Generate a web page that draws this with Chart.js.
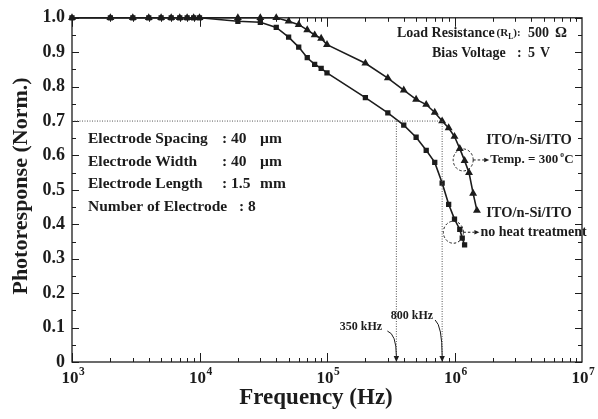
<!DOCTYPE html>
<html>
<head>
<meta charset="utf-8">
<script src="https://cdn.jsdelivr.net/npm/chart.js@4.4.0/dist/chart.umd.min.js"></script>
<style>
html, body { margin: 0; padding: 0; background: #fff; }
#wrap { width: 598px; height: 419px; }
</style>
</head>
<body>
<div id="wrap"><canvas id="photoChart"></canvas></div>
<script>
// ---------- DATA ----------
const noHeatFreq = [1e3, 2e3, 3e3, 4e3, 5e3, 6e3, 7e3, 8e3, 9e3, 1e4, 2e4, 3e4, 4e4, 5e4, 6e4, 7e4, 8e4, 9e4, 1e5,
    2e5, 3e5, 4e5, 5e5, 6e5, 7e5, 8e5, 9e5, 1e6, 1.1e6, 1.15e6, 1.2e6];
const noHeatResp = [1, 1, 1, 1, 1, 1, 1, 1, 1, 1, 0.99, 0.987, 0.972, 0.944, 0.915, 0.884, 0.865, 0.853, 0.84,
    0.768, 0.724, 0.688, 0.653, 0.615, 0.58, 0.52, 0.458, 0.415, 0.385, 0.36, 0.34];

const annealFreq = [1e3, 2e3, 3e3, 4e3, 5e3, 6e3, 7e3, 8e3, 9e3, 1e4, 2e4, 3e4, 4e4, 5e4, 6e4, 7e4, 8e4, 9e4, 1e5,
    2e5, 3e5, 4e5, 5e5, 6e5, 7e5, 8e5, 9e5, 1e6, 1.1e6, 1.2e6, 1.3e6, 1.4e6, 1.5e6];
const annealResp = [1, 1, 1, 1, 1, 1, 1, 1, 1, 1, 1, 1, 1, 0.99, 0.98, 0.965, 0.95, 0.94, 0.922,
    0.868, 0.825, 0.79, 0.763, 0.748, 0.725, 0.70, 0.68, 0.655, 0.62, 0.585, 0.55, 0.49, 0.44];

const cutoffFreq = [3.5e5, 8e5];
const cutoffLabels = ["350 kHz", "800 kHz"];
const cutoffLevel = 0.7;

const xDecades = [1e3, 1e4, 1e5, 1e6, 1e7];
const xExponents = ["3", "4", "5", "6", "7"];
const yTickValues = [0, 0.1, 0.2, 0.3, 0.4, 0.5, 0.6, 0.7, 0.8, 0.9, 1.0];
const yTickLabels = ["0", "0.1", "0.2", "0.3", "0.4", "0.5", "0.6", "0.7", "0.8", "0.9", "1.0"];

const INK = "#1c1c1c";
const SERIF = '"Liberation Serif", "Times New Roman", serif';

function toPoints(xs, ys) {
    return xs.map((v, i) => ({ x: v, y: ys[i] }));
}

function bold(size) {
    return "bold " + size + "px " + SERIF;
}

function text(ctx, s, x, y, size, align) {
    ctx.font = bold(size);
    ctx.textAlign = align || "left";
    ctx.textBaseline = "middle";
    ctx.fillText(s, x, y);
    return ctx.measureText(s).width;
}

function arrowHead(ctx, x, y, angle, len) {
    ctx.save();
    ctx.translate(x, y);
    ctx.rotate(angle);
    ctx.beginPath();
    ctx.moveTo(0, 0);
    ctx.lineTo(-len, -len * 0.45);
    ctx.lineTo(-len, len * 0.45);
    ctx.closePath();
    ctx.fill();
    ctx.restore();
}

// ---------- FRAME + INWARD TICKS ----------
const framePlugin = {
    id: "frame",
    beforeDatasetsDraw(chart) {
        const { ctx, chartArea: a, scales: { x, y } } = chart;
        ctx.save();
        ctx.strokeStyle = INK;
        ctx.lineWidth = 1.3;
        ctx.strokeRect(a.left, a.top, a.right - a.left, a.bottom - a.top);
        ctx.lineWidth = 1;
        ctx.beginPath();
        for (let d = 0; d < xDecades.length - 1; d++) {
            for (let m = 1; m < 10; m++) {
                const px = Math.round(x.getPixelForValue(m * xDecades[d])) + 0.5;
                const len = m === 1 ? 9 : 4;
                ctx.moveTo(px, a.bottom); ctx.lineTo(px, a.bottom - len);
                ctx.moveTo(px, a.top); ctx.lineTo(px, a.top + len);
            }
        }
        for (let i = 0; i <= 20; i++) {
            const py = Math.round(y.getPixelForValue(i * 0.05)) + 0.5;
            const len = i % 2 === 0 ? 7 : 4;
            ctx.moveTo(a.left, py); ctx.lineTo(a.left + len, py);
            ctx.moveTo(a.right, py); ctx.lineTo(a.right - len, py);
        }
        ctx.stroke();
        ctx.restore();
    },
    afterDraw(chart) {
        const { ctx, chartArea: a, scales: { x, y } } = chart;
        ctx.save();
        ctx.fillStyle = INK;
        ctx.strokeStyle = INK;

        // x tick labels 10^n
        xDecades.forEach((v, i) => {
            const px = x.getPixelForValue(v);
            ctx.font = bold(17);
            const w = ctx.measureText("10").width;
            text(ctx, "10", px - 2 - w / 2, 379, 17, "left");
            text(ctx, xExponents[i], px - 2 + w / 2 + 0.5, 372, 11.5, "left");
        });

        // axis titles
        text(ctx, "Frequency (Hz)", 316, 398, 23, "center");
        ctx.save();
        ctx.translate(21, 186);
        ctx.rotate(-Math.PI / 2);
        text(ctx, "Photoresponse (Norm.)", 0, 0, 22, "center");
        ctx.restore();

        // measurement conditions
        let cx = 397;
        cx += text(ctx, "Load Resistance", cx, 33, 14);
        cx += 2;
        cx += text(ctx, "(R", cx, 33, 11);
        text(ctx, "L", cx, 37, 7.5);
        cx += 5;
        cx += text(ctx, "):", cx, 33, 11);
        text(ctx, "500", 528, 33, 14);
        text(ctx, "\u03A9", 555, 33, 15);
        text(ctx, "Bias Voltage", 432, 53, 14);
        text(ctx, ":", 517, 53, 14);
        text(ctx, "5", 528, 53, 14);
        text(ctx, "V", 540, 53, 14);

        // electrode block
        const rows = [
            ["Electrode Spacing", ": 40", "\u00B5m"],
            ["Electrode Width", ": 40", "\u00B5m"],
            ["Electrode Length", ": 1.5", "mm"],
            ["Number of Electrode", ": 8", ""]
        ];
        rows.forEach((r, i) => {
            const ry = 139 + i * 22.6;
            text(ctx, r[0], 88, ry, 15.5);
            text(ctx, r[1], i === 3 ? 239 : 222, ry, 15.5);
            if (r[2]) text(ctx, r[2], 260, ry, 15.5);
        });

        // cutoff labels with curved arrows
        ctx.lineWidth = 1;
        const p350 = x.getPixelForValue(cutoffFreq[0]);
        const p800 = x.getPixelForValue(cutoffFreq[1]);
        text(ctx, cutoffLabels[0], 361, 327, 12, "center");
        text(ctx, cutoffLabels[1], 412, 316, 12, "center");
        ctx.beginPath();
        ctx.moveTo(p350 - 9, 331);
        ctx.quadraticCurveTo(p350, 334, p350, a.bottom - 6);
        ctx.moveTo(p800 - 7, 320);
        ctx.quadraticCurveTo(p800, 326, p800, a.bottom - 6);
        ctx.stroke();
        arrowHead(ctx, p350, a.bottom, Math.PI / 2, 6);
        arrowHead(ctx, p800, a.bottom, Math.PI / 2, 6);

        // dashed circles marking each curve
        const marks = [
            { f: 1.17e6, v: 0.587, title: "ITO/n-Si/ITO", ty: 140, label: "Temp. = 300", sup: true },
            { f: 0.98e6, v: 0.377, title: "ITO/n-Si/ITO", ty: 213, label: "no heat treatment", sup: false }
        ];
        marks.forEach(m => {
            const mx = x.getPixelForValue(m.f);
            const my = y.getPixelForValue(m.v);
            ctx.setLineDash([2.5, 2]);
            ctx.beginPath();
            ctx.ellipse(mx, my, 10, 11, 0, 0, Math.PI * 2);
            ctx.moveTo(mx + 10, my);
            ctx.lineTo(mx + 21, my);
            ctx.stroke();
            ctx.setLineDash([]);
            arrowHead(ctx, mx + 26, my, 0, 5);
            text(ctx, m.title, 529, m.ty, 14.5, "center");
            const w = text(ctx, m.label, mx + 27, my, m.sup ? 13 : 14);
            if (m.sup) {
                text(ctx, "o", mx + 27 + w + 2, my - 5, 7.5);
                text(ctx, "C", mx + 27 + w + 6, my, 13);
            }
        });
        ctx.restore();
    }
};

// ---------- CHART ----------
const refLines = [
    { data: [{ x: xDecades[0], y: cutoffLevel }, { x: cutoffFreq[1], y: cutoffLevel }] },
    { data: [{ x: cutoffFreq[0], y: 0 }, { x: cutoffFreq[0], y: cutoffLevel }] },
    { data: [{ x: cutoffFreq[1], y: 0 }, { x: cutoffFreq[1], y: cutoffLevel }] }
].map(d => Object.assign(d, {
    borderColor: "#555",
    borderWidth: 1,
    borderDash: [1, 1.5],
    pointRadius: 0,
    fill: false
}));

const ctx = document.getElementById("photoChart").getContext("2d");

new Chart(ctx, {
    type: "line",
    data: {
        datasets: [
            ...refLines,
            {
                label: "ITO/n-Si/ITO no heat treatment",
                data: toPoints(noHeatFreq, noHeatResp),
                borderColor: INK,
                backgroundColor: INK,
                borderWidth: 1.6,
                pointStyle: "rect",
                pointRadius: 2.6,
                clip: false
            },
            {
                label: "ITO/n-Si/ITO Temp. = 300 C",
                data: toPoints(annealFreq, annealResp),
                borderColor: INK,
                backgroundColor: INK,
                borderWidth: 1.6,
                pointStyle: "triangle",
                pointRadius: 3,
                clip: false
            }
        ]
    },
    options: {
        responsive: true,
        maintainAspectRatio: false,
        animation: false,
        layout: { padding: { top: 12, right: 16, left: 0, bottom: 0 }, autoPadding: false },
        plugins: {
            legend: { display: false },
            tooltip: { enabled: false }
        },
        scales: {
            x: {
                type: "logarithmic",
                min: xDecades[0],
                max: xDecades[xDecades.length - 1],
                grid: { display: false, drawTicks: false },
                border: { display: false },
                ticks: { display: false },
                afterFit(scale) { scale.height = 57; }
            },
            y: {
                min: 0,
                max: 1,
                afterBuildTicks(scale) {
                    scale.ticks = yTickValues.map(v => ({ value: v }));
                },
                grid: { display: false, drawTicks: false },
                border: { display: false },
                ticks: {
                    padding: 7,
                    color: INK,
                    font: { family: SERIF, size: 18, weight: "bold" },
                    callback: (v, i) => yTickLabels[i]
                },
                afterFit(scale) { scale.width = 72; }
            }
        }
    },
    plugins: [framePlugin]
});
</script>
</body>
</html>
